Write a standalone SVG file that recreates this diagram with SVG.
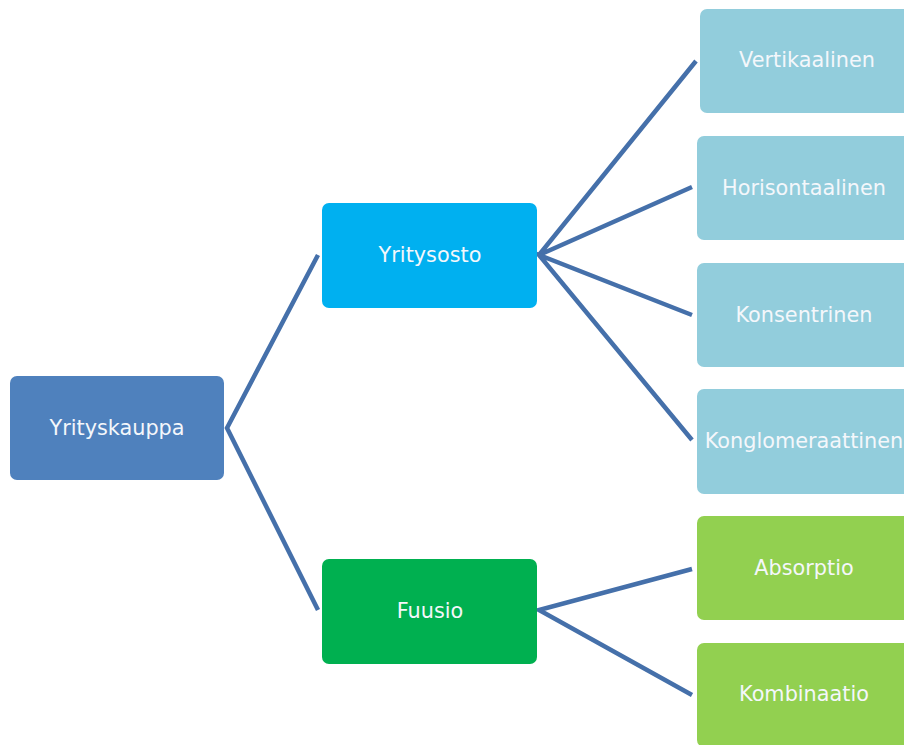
<svg xmlns="http://www.w3.org/2000/svg" width="904" height="745" viewBox="0 0 904 745">
<style>
.t{font-family:"DejaVu Sans","Liberation Sans",sans-serif;font-size:20.8px;fill:#F4F7FB;text-anchor:middle;dominant-baseline:central}
.c{stroke:#4570AA;stroke-width:4.5;fill:none;stroke-linejoin:miter}
</style>
<rect width="904" height="745" fill="#FFFFFF"/>
<g id="connectors">
<polyline class="c" points="318,255 227,428 318,610"/>
<polyline class="c" points="696,61 539,255 692,187"/>
<polyline class="c" points="692,315 539,255 692,440"/>
<polyline class="c" points="692,569 539,610 692,695"/>
</g>
<g id="yrityskauppa"><rect x="10" y="376" width="214" height="104" rx="7" fill="#4F81BD"/><text class="t" x="117" y="428">Yrityskauppa</text></g>
<g id="yritysosto"><rect x="322" y="203" width="215" height="105" rx="7" fill="#00B0F0"/><text class="t" x="430" y="255">Yritysosto</text></g>
<g id="fuusio"><rect x="322" y="559" width="215" height="105" rx="7" fill="#00B050"/><text class="t" x="430" y="611">Fuusio</text></g>
<g id="vertikaalinen"><rect x="700" y="9" width="214" height="104" rx="7" fill="#92CDDC"/><text class="t" x="807" y="60">Vertikaalinen</text></g>
<g id="horisontaalinen"><rect x="697" y="136" width="214" height="104" rx="7" fill="#92CDDC"/><text class="t" x="804" y="188">Horisontaalinen</text></g>
<g id="konsentrinen"><rect x="697" y="263" width="214" height="104" rx="7" fill="#92CDDC"/><text class="t" x="804" y="315">Konsentrinen</text></g>
<g id="konglomeraattinen"><rect x="697" y="389" width="214" height="105" rx="7" fill="#92CDDC"/><text class="t" x="804" y="441">Konglomeraattinen</text></g>
<g id="absorptio"><rect x="697" y="516" width="214" height="104" rx="7" fill="#92D050"/><text class="t" x="804" y="568">Absorptio</text></g>
<g id="kombinaatio"><rect x="697" y="643" width="214" height="104" rx="7" fill="#92D050"/><text class="t" x="804" y="694">Kombinaatio</text></g>
</svg>
